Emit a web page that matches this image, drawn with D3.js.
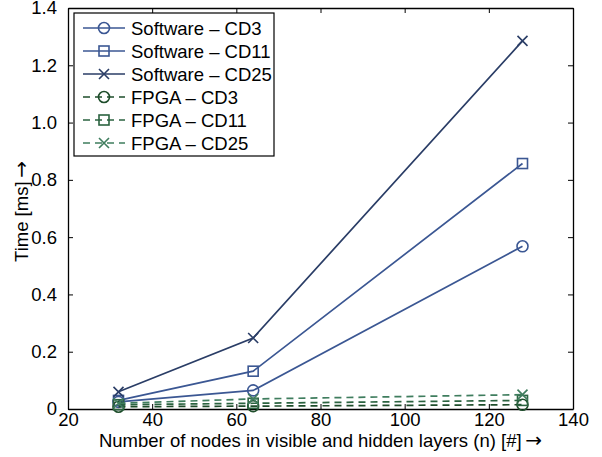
<!DOCTYPE html>
<html>
<head>
<meta charset="utf-8">
<script src="https://cdn.jsdelivr.net/npm/d3@7"></script>
<style>
    body { margin: 0; background: #fff; }
    svg { font-family: "Liberation Sans", Arial, sans-serif; }
    .axis text { font-size: 18.5px; fill: #000; }
    .arrow { font-family: "DejaVu Sans", sans-serif; font-size: 20px; }
</style>
</head>
<body>
<script>
const nodes = [32, 64, 128]

const swCD3 = [0.025, 0.065, 0.568]
const swCD11 = [0.03, 0.132, 0.857]
const swCD25 = [0.06, 0.248, 1.285]
const fpgaCD3 = [0.008, 0.01, 0.015]
const fpgaCD11 = [0.015, 0.02, 0.03]
const fpgaCD25 = [0.02, 0.035, 0.05]

const xTicks = [20, 40, 60, 80, 100, 120, 140]
const yTicks = [0, 0.2, 0.4, 0.6, 0.8, 1.0, 1.2, 1.4]

const series = [
    { name: "Software \u2013 CD3", values: swCD3, color: "#3b5793", dash: null, marker: "circle" },
    { name: "Software \u2013 CD11", values: swCD11, color: "#3b5793", dash: null, marker: "square" },
    { name: "Software \u2013 CD25", values: swCD25, color: "#2a3d66", dash: null, marker: "cross" },
    { name: "FPGA \u2013 CD3", values: fpgaCD3, color: "#1e4d2b", dash: "7,5", marker: "circle" },
    { name: "FPGA \u2013 CD11", values: fpgaCD11, color: "#2b6340", dash: "7,5", marker: "square" },
    { name: "FPGA \u2013 CD25", values: fpgaCD25, color: "#3f7d5e", dash: "7,5", marker: "cross" }
]

const WIDTH = 602
const HEIGHT = 457
const PADDING = { left: 68, right: 29, top: 8, bottom: 48 }

const svg = d3.select("body")
    .append("svg")
    .attr("width", WIDTH)
    .attr("height", HEIGHT)

const xScale = d3.scaleLinear()
    .domain([20, 140])
    .range([PADDING.left, WIDTH - PADDING.right])

const yScale = d3.scaleLinear()
    .domain([0, 1.4])
    .range([HEIGHT - PADDING.bottom, PADDING.top])

const fmtY = d => d === 0 ? "0" : d3.format(".1f")(d)

// axes, ticks pointing inward, mirrored on top/right
svg.append("g")
    .attr("class", "axis")
    .attr("transform", "translate(0," + (HEIGHT - PADDING.bottom) + ")")
    .call(d3.axisBottom(xScale).tickValues(xTicks).tickSizeInner(-5).tickSizeOuter(0).tickPadding(4))
svg.append("g")
    .attr("class", "axis")
    .attr("transform", "translate(0," + PADDING.top + ")")
    .call(d3.axisTop(xScale).tickValues(xTicks).tickSizeInner(-5).tickSizeOuter(0).tickFormat(""))
svg.append("g")
    .attr("class", "axis")
    .attr("transform", "translate(" + PADDING.left + ",0)")
    .call(d3.axisLeft(yScale).tickValues(yTicks).tickSizeInner(-5).tickSizeOuter(0).tickPadding(11).tickFormat(fmtY))
svg.append("g")
    .attr("class", "axis")
    .attr("transform", "translate(" + (WIDTH - PADDING.right) + ",0)")
    .call(d3.axisRight(yScale).tickValues(yTicks).tickSizeInner(-5).tickSizeOuter(0).tickFormat(""))

svg.selectAll(".axis path").attr("stroke", "#000").attr("stroke-width", 1.3)
svg.selectAll(".axis line").attr("stroke", "#000")

const xTitle = svg.append("text")
    .attr("x", (PADDING.left + WIDTH - PADDING.right) / 2)
    .attr("y", 447)
    .attr("text-anchor", "middle")
    .style("font-size", "18.5px")
xTitle.append("tspan").text("Number of nodes in visible and hidden layers (n) [#]\u2009")
xTitle.append("tspan").attr("class", "arrow").text("\u2192")

const yTitle = svg.append("text")
    .attr("transform", "translate(28," + ((PADDING.top + HEIGHT - PADDING.bottom) / 2 + 3) + ") rotate(-90)")
    .attr("text-anchor", "middle")
    .style("font-size", "18.5px")
yTitle.append("tspan").text("Time [ms]\u2009")
yTitle.append("tspan").attr("class", "arrow").text("\u2192")

const drawMarker = (g, type, x, y, color) => {
    if (type === "circle") {
        g.append("circle").attr("cx", x).attr("cy", y).attr("r", 5.5)
            .attr("fill", "none").attr("stroke", color).attr("stroke-width", 1.6)
    } else if (type === "square") {
        g.append("rect").attr("x", x - 5).attr("y", y - 5).attr("width", 10).attr("height", 10)
            .attr("fill", "none").attr("stroke", color).attr("stroke-width", 1.6)
    } else {
        g.append("path").attr("d", `M${x - 5},${y - 5}L${x + 5},${y + 5}M${x - 5},${y + 5}L${x + 5},${y - 5}`)
            .attr("stroke", color).attr("stroke-width", 1.6)
    }
}

const line = d3.line()
    .x((d, i) => xScale(nodes[i]))
    .y(d => yScale(d))

series.forEach(s => {
    const g = svg.append("g")
    g.append("path")
        .datum(s.values)
        .attr("d", line)
        .attr("fill", "none")
        .attr("stroke", s.color)
        .attr("stroke-width", 1.7)
        .attr("stroke-dasharray", s.dash)
    s.values.forEach((v, i) => drawMarker(g, s.marker, xScale(nodes[i]), yScale(v), s.color))
})

// legend
const legend = svg.append("g").attr("transform", "translate(74,13)")
legend.append("rect")
    .attr("width", 200).attr("height", 143)
    .attr("fill", "#fff").attr("stroke", "#000").attr("stroke-width", 1.2)

series.forEach((s, i) => {
    const y = 15 + i * 23
    const row = legend.append("g")
    row.append("line")
        .attr("x1", 9).attr("x2", 51).attr("y1", y).attr("y2", y)
        .attr("stroke", s.color).attr("stroke-width", 1.7)
        .attr("stroke-dasharray", s.dash)
    drawMarker(row, s.marker, 30, y, s.color)
    row.append("text")
        .attr("x", 57).attr("y", y + 7)
        .style("font-size", "18.5px")
        .text(s.name)
})
</script>
</body>
</html>
